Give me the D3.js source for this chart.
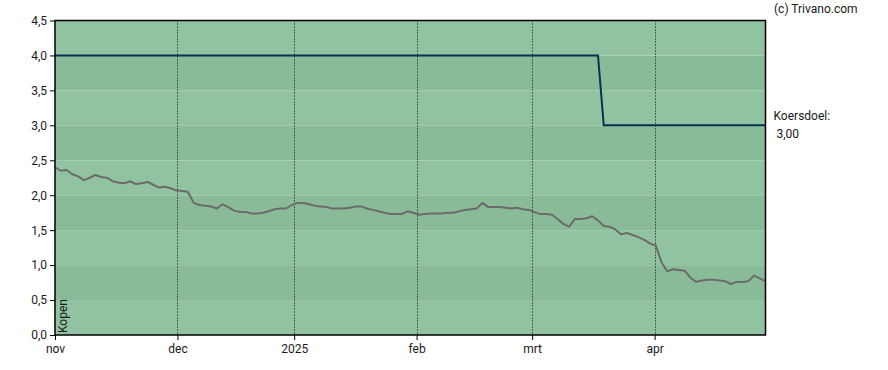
<!DOCTYPE html>
<html>
<head>
<meta charset="utf-8">
<script src="https://cdn.jsdelivr.net/npm/d3@7"></script>
<style>
  html, body { margin: 0; padding: 0; background: #ffffff; }
  svg { display: block; font-family: Roboto, "Liberation Sans", Arial, sans-serif; }
</style>
</head>
<body>
<div id="chart"></div>
<script>
// Month tick labels and their positions on the trading-day axis
const monthLabels = ["nov", "dec", "2025", "feb", "mrt", "apr"];
const monthIndex = [0, 21.2, 41.4, 62.6, 82.6, 103.8];

// Y axis ticks
const yTicks = [0, 0.5, 1, 1.5, 2, 2.5, 3, 3.5, 4, 4.5];

// Share price, one value per trading day (Nov 2024 - Apr 2025)
const price = [
  2.40, 2.35, 2.36, 2.30, 2.27, 2.215, 2.25, 2.29, 2.26, 2.25,
  2.20, 2.18, 2.17, 2.20, 2.16, 2.17, 2.19, 2.15, 2.11, 2.12,
  2.10, 2.07, 2.06, 2.05, 1.89, 1.86, 1.85, 1.84, 1.81, 1.87,
  1.83, 1.78, 1.76, 1.76, 1.74, 1.74, 1.75, 1.77, 1.80, 1.81,
  1.81, 1.86, 1.89, 1.89, 1.87, 1.85, 1.84, 1.83, 1.81, 1.81,
  1.81, 1.82, 1.84, 1.84, 1.81, 1.79, 1.77, 1.75, 1.73, 1.73,
  1.73, 1.77, 1.75, 1.72, 1.73, 1.74, 1.74, 1.74, 1.75, 1.75,
  1.77, 1.79, 1.80, 1.81, 1.89, 1.83, 1.83, 1.83, 1.82, 1.81,
  1.82, 1.80, 1.79, 1.76, 1.73, 1.73, 1.72, 1.66, 1.59, 1.55,
  1.66, 1.66, 1.67, 1.70, 1.64, 1.56, 1.55, 1.51, 1.44, 1.46,
  1.43, 1.40, 1.36, 1.31, 1.28, 1.04, 0.91, 0.94, 0.93, 0.92,
  0.82, 0.76, 0.78, 0.79, 0.79, 0.78, 0.77, 0.73, 0.76, 0.76,
  0.77, 0.85, 0.81, 0.77
];

// Price target (koersdoel) steps
const targetIndex = [0, 94, 95, 123];
const targetValue = [4.0, 4.0, 3.0, 3.0];

const W = 888, H = 370;
const margin = { left: 55, top: 20.5, right: 122.5, bottom: 35 };
const iw = W - margin.left - margin.right;
const ih = H - margin.top - margin.bottom;

const svg = d3.select("#chart").append("svg")
  .attr("width", W).attr("height", H);

const g = svg.append("g").attr("transform", `translate(${margin.left},${margin.top})`);

const x = d3.scaleLinear().domain([0, price.length - 1]).range([0, iw]);
const y = d3.scaleLinear().domain([0, 4.5]).range([ih, 0]);

// Background bands
const bandStarts = d3.range(0, 4.5, 0.5);
g.selectAll("rect.band").data(bandStarts).join("rect")
  .attr("class", "band")
  .attr("x", 0)
  .attr("width", iw)
  .attr("y", d => y(d + 0.5))
  .attr("height", d => y(d) - y(d + 0.5))
  .attr("fill", (d, i) => i % 2 === 0 ? "#91c3a2" : "#8abb99");

// Vertical dotted month lines
g.selectAll("line.vgrid").data(monthIndex.filter(d => d > 0)).join("line")
  .attr("class", "vgrid")
  .attr("x1", d => Math.round(x(d)) + 0.5)
  .attr("x2", d => Math.round(x(d)) + 0.5)
  .attr("y1", 0).attr("y2", ih)
  .attr("stroke", "#000")
  .attr("stroke-width", 1)
  .attr("stroke-dasharray", "1,2");

// Price line
const priceLine = d3.line().x((d, i) => x(i)).y(d => y(d));
g.append("path").datum(price)
  .attr("fill", "none")
  .attr("stroke", "#6b6b6b")
  .attr("stroke-width", 2)
  .attr("stroke-linejoin", "round")
  .attr("d", priceLine);

// Target line
const targetData = targetIndex.map((d, i) => [d, targetValue[i]]);
g.append("path").datum(targetData)
  .attr("fill", "none")
  .attr("stroke", "#07324f")
  .attr("stroke-width", 2)
  .attr("d", d3.line().x(d => x(d[0])).y(d => y(d[1])));

// Frame
g.append("rect")
  .attr("x", 0).attr("y", 0).attr("width", iw).attr("height", ih)
  .attr("fill", "none").attr("stroke", "#000").attr("stroke-width", 1.5);

// Y axis
const yAxis = d3.axisLeft(y).tickValues(yTicks).tickSize(5).tickPadding(3)
  .tickFormat(d => d3.format(".1f")(d).replace(".", ","));
const ya = g.append("g").call(yAxis);
ya.select(".domain").remove();
ya.selectAll(".tick line").attr("stroke", "#000");
ya.selectAll(".tick text").attr("fill", "#1a1a1a").style("font-size", "12px")
  .style("font-family", "Roboto, sans-serif");

// X axis
const xAxis = d3.axisBottom(x).tickValues(monthIndex).tickSize(5).tickPadding(4)
  .tickFormat((d, i) => monthLabels[i]);
const xa = g.append("g").attr("transform", `translate(0,${ih})`).call(xAxis);
xa.select(".domain").remove();
xa.selectAll(".tick line").attr("stroke", "#000");
xa.selectAll(".tick text").attr("fill", "#1a1a1a").style("font-size", "12px")
  .style("font-family", "Roboto, sans-serif");

// Kopen label
g.append("text")
  .attr("transform", `translate(${12},${ih - 2}) rotate(-90)`)
  .attr("fill", "#1a1a1a")
  .style("font-size", "12px")
  .text("Kopen");

// Copyright
svg.append("text")
  .attr("x", 774).attr("y", 13)
  .attr("fill", "#1a1a1a")
  .style("font-size", "12px")
  .text("(c) Trivano.com");

// Koersdoel label
const lastT = targetValue[targetValue.length - 1];
svg.append("text")
  .attr("x", margin.left + iw + 8).attr("y", margin.top + y(lastT) - 5)
  .attr("fill", "#1a1a1a")
  .style("font-size", "12px")
  .text("Koersdoel:");
svg.append("text")
  .attr("x", margin.left + iw + 11).attr("y", margin.top + y(lastT) + 13)
  .attr("fill", "#1a1a1a")
  .style("font-size", "12px")
  .text(d3.format(".2f")(lastT).replace(".", ","));
</script>
</body>
</html>
